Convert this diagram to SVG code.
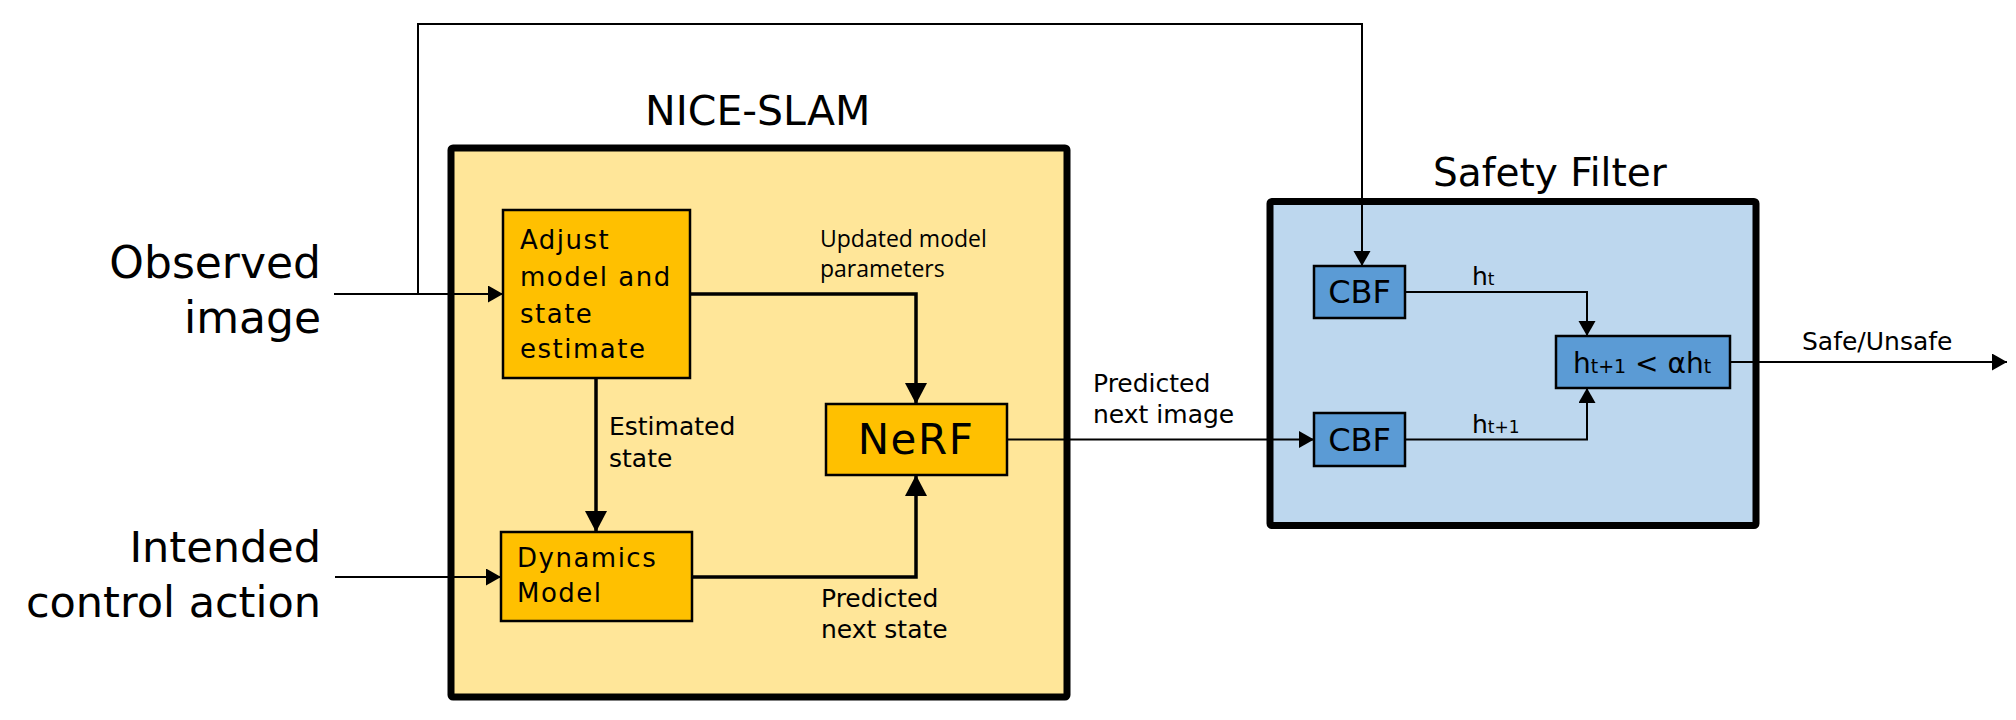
<svg xmlns="http://www.w3.org/2000/svg" width="2016" height="720" viewBox="0 0 2016 720">
<style>
.wide{font-family:"DejaVu Sans","Liberation Sans",sans-serif;fill:#000}
.os{font-family:"Open Sans","Liberation Sans",sans-serif;fill:#000}
.thin{fill:none;stroke:#000;stroke-width:2}
.thick{fill:none;stroke:#000;stroke-width:3.5}
.ybox{fill:#FFC000;stroke:#000;stroke-width:2.5}
.bbox{fill:#5B9BD5;stroke:#000;stroke-width:2.5}
</style>
<defs>
<marker id="aS" markerUnits="userSpaceOnUse" markerWidth="16" markerHeight="18" refX="15" refY="8.5" orient="auto"><path d="M0,0 L15,8.5 L0,17 z" fill="#000"/></marker>
<marker id="aL" markerUnits="userSpaceOnUse" markerWidth="22" markerHeight="24" refX="21" refY="11" orient="auto"><path d="M0,0 L21,11 L0,22 z" fill="#000"/></marker>
</defs>
<rect width="2016" height="720" fill="#fff"/>
<g id="nice-slam">
<rect x="451" y="148" width="616" height="549" fill="#FFE699" stroke="#000" stroke-width="7" rx="2"/>
<text class="wide" x="645" y="125" font-size="41">NICE-SLAM</text>
</g>
<g id="safety-filter">
<rect x="1270" y="201.5" width="486" height="324" fill="#BDD7EE" stroke="#000" stroke-width="7" rx="2"/>
<text class="wide" x="1433" y="186" font-size="39">Safety Filter</text>
</g>
<g id="observed-label">
<text class="wide" x="321" y="278" font-size="44" text-anchor="end">Observed</text>
<text class="wide" x="321" y="333" font-size="44" text-anchor="end">image</text>
</g>
<g id="intended-label">
<text class="wide" x="321" y="562" font-size="43" text-anchor="end">Intended</text>
<text class="wide" x="321" y="617" font-size="43" text-anchor="end">control action</text>
</g>
<g id="adjust">
<rect class="ybox" x="503" y="210" width="187" height="168"/>
<text class="wide" font-size="26" letter-spacing="1.5"><tspan x="520" y="249">Adjust</tspan><tspan x="520" y="286">model and</tspan><tspan x="520" y="323">state</tspan><tspan x="520" y="358">estimate</tspan></text>
</g>
<g id="dynamics">
<rect class="ybox" x="501" y="532" width="191" height="89"/>
<text class="wide" font-size="26" letter-spacing="1.5"><tspan x="517" y="567">Dynamics</tspan><tspan x="517" y="602">Model</tspan></text>
</g>
<g id="nerf">
<rect class="ybox" x="826" y="404" width="181" height="71"/>
<text class="wide" x="916" y="454" font-size="42" letter-spacing="1.5" text-anchor="middle">NeRF</text>
</g>
<g id="cbf1">
<rect class="bbox" x="1314" y="266" width="91" height="52"/>
<text class="wide" x="1359.5" y="303" font-size="32" text-anchor="middle">CBF</text>
</g>
<g id="cbf2">
<rect class="bbox" x="1314" y="413" width="91" height="53"/>
<text class="wide" x="1359.5" y="451" font-size="32" text-anchor="middle">CBF</text>
</g>
<g id="compare">
<rect class="bbox" x="1556" y="336" width="174" height="52"/>
<text class="wide" x="1573" y="373" font-size="28">h<tspan font-size="19">t+1</tspan> &lt; αh<tspan font-size="19">t</tspan></text>
</g>
<g id="connectors">
<path class="thin" d="M334,294 H503" marker-end="url(#aS)"/>
<path class="thin" d="M418,294 V24 H1362 V266" marker-end="url(#aS)"/>
<path class="thick" d="M690,294 H916 V404" marker-end="url(#aL)"/>
<path class="thick" d="M596,378 V532" marker-end="url(#aL)"/>
<path class="thin" d="M335,577 H501" marker-end="url(#aS)"/>
<path class="thick" d="M692,577 H916 V475" marker-end="url(#aL)"/>
<path class="thin" d="M1007,439.5 H1314" marker-end="url(#aS)"/>
<path class="thin" d="M1405,292 H1587 V336" marker-end="url(#aS)"/>
<path class="thin" d="M1405,439.5 H1587 V388" marker-end="url(#aS)"/>
<path class="thin" d="M1730,362 H2007" marker-end="url(#aS)"/>
<text class="os" font-size="23"><tspan x="820" y="247">Updated model</tspan><tspan x="820" y="277">parameters</tspan></text>
<text class="wide" font-size="25"><tspan x="609" y="435">Estimated</tspan><tspan x="609" y="467">state</tspan></text>
<text class="wide" font-size="25"><tspan x="821" y="607">Predicted</tspan><tspan x="821" y="638">next state</tspan></text>
<text class="wide" font-size="25"><tspan x="1093" y="392">Predicted</tspan><tspan x="1093" y="423">next image</tspan></text>
<text class="wide" x="1472" y="285" font-size="25">h<tspan font-size="17">t</tspan></text>
<text class="wide" x="1472" y="433" font-size="25">h<tspan font-size="17">t+1</tspan></text>
<text class="wide" x="1802" y="350" font-size="25">Safe/Unsafe</text>
</g>
</svg>
